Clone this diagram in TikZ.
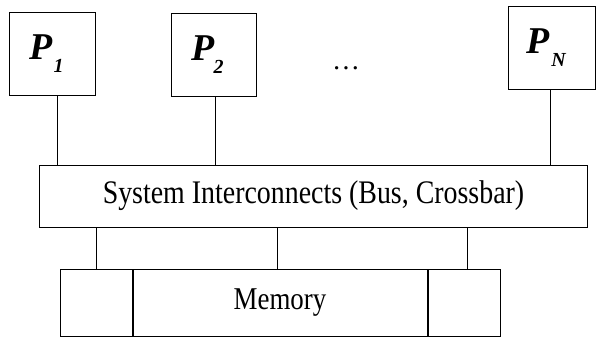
\documentclass[tikz,border=0pt]{standalone}
\usepackage{fontspec}
\setmainfont{Liberation Serif}
\usetikzlibrary{positioning}

\tikzset{
  procbox/.style={draw, line width=1bp, minimum width=85bp, minimum height=83bp, inner sep=0pt,
    font=\fontsize{38}{40}\selectfont\bfseries\itshape},
  busbox/.style={draw, line width=1bp, minimum width=547bp, minimum height=62bp, inner sep=0pt,
    font=\fontsize{28}{30}\selectfont},
  membox/.style={draw, line width=1bp, minimum height=67bp, inner sep=0pt,
    font=\fontsize{27}{30}\selectfont},
  wire/.style={line width=1bp}
}
% subscript of a processor name: #1 = kern before it
\newcommand{\procsub}[2][0bp]{\kern#1\raisebox{-13bp}{\fontsize{20}{20}\selectfont #2}\kern12bp}
\newcommand{\tall}[1]{\scalebox{1}[1.18]{#1}}

\begin{document}
\begin{tikzpicture}[x=1bp, y=-1bp]
  \useasboundingbox (0,0) rectangle (599,340);

  % processors
  \node[procbox] (p1) at (52.5,53.5) {P\procsub[1bp]{1}};
  \node[procbox] (p2) at (213.5,54.5) {P\procsub[-1bp]{2}};
  \node[procbox, minimum width=87bp] (pn) at (552,48) {P\procsub[2bp]{N}};
  \node[font=\fontsize{28}{28}\selectfont] (dots) at (346,68) {\ldots};

  % interconnect
  \node[busbox] (bus) at (313.5,196) {\tall{System Interconnects (Bus, Crossbar)}};

  % memory banks
  \node[membox, minimum width=72bp] (memL) at (96,302.5) {};
  \node[membox, minimum width=294bp, right=0bp of memL] (memM) {\tall{Memory}};
  \node[membox, minimum width=72bp, right=0bp of memM] (memR) {};

  % links
  \draw[wire] ([xshift=4.5bp]p1.south) -- ([xshift=4.5bp]p1.south |- bus.north);
  \draw[wire] ([xshift=1.5bp]p2.south) -- ([xshift=1.5bp]p2.south |- bus.north);
  \draw[wire] ([xshift=-2bp]pn.south) -- ([xshift=-2bp]pn.south |- bus.north);
  \draw[wire] (memL.north) -- (memL.north |- bus.south);
  \draw[wire] ([xshift=-3bp]memM.north) -- ([xshift=-3bp]memM.north |- bus.south);
  \draw[wire] ([xshift=3bp]memR.north) -- ([xshift=3bp]memR.north |- bus.south);
\end{tikzpicture}
\end{document}
